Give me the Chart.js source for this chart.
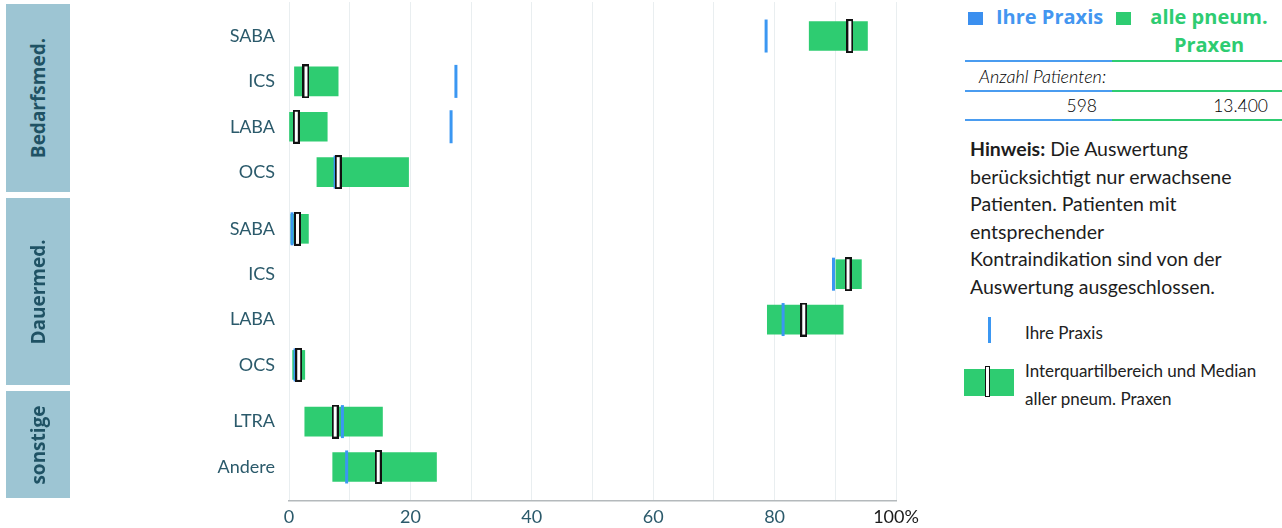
<!DOCTYPE html>
<html lang="de">
<head>
<meta charset="utf-8">
<title>Verordnungen</title>
<script src="https://cdn.jsdelivr.net/npm/chart.js@4.4.1/dist/chart.umd.min.js"></script>
<style>
  body { margin: 0; background: #fff; font-family: Lato, "Noto Sans", sans-serif; }
  #wrap { position: relative; width: 1282px; height: 528px; overflow: hidden; }
  #chartBox { position: absolute; left: 0; top: 0; width: 940px; height: 528px; }
  .grp { position: absolute; left: 6px; width: 64px; background: #9dc5d3;
         display: flex; align-items: center; justify-content: center; }
  .grp span { transform: rotate(-90deg); white-space: nowrap; font-family: "Open Sans", sans-serif;
              font-weight: 700; font-size: 19px; color: #1f5264; }
  .abs { position: absolute; white-space: nowrap; }
  .sq { position: absolute; width: 15px; height: 13px; }
  .rule { position: absolute; height: 2px; }
  .head { font-family: "Open Sans", sans-serif; font-weight: 700; font-size: 20px; line-height: 28px; }
  .num { font-size: 17.5px; font-weight: 300; color: #000; text-align: right; }
  #hint { left: 970px; top: 135px; font-size: 19.5px; line-height: 27.5px; color: #1d1d1d; }
  .leg { font-size: 17px; color: #222; line-height: 28px; }
</style>
</head>
<body>
<div id="wrap">
  <div id="chartBox"><canvas id="chart"></canvas></div>

  <div class="grp" style="top:4px;height:188px"><span id="g0"></span></div>
  <div class="grp" style="top:198px;height:187px"><span id="g1"></span></div>
  <div class="grp" style="top:391px;height:107px"><span id="g2"></span></div>

  <!-- legend / table header -->
  <div class="sq" style="left:968px;top:12px;background:#3b8fef"></div>
  <div class="abs head" style="left:996px;top:3px;color:#4396f0">Ihre Praxis</div>
  <div class="sq" style="left:1116px;top:12px;background:#2ecc71"></div>
  <div class="abs head" style="left:1139px;top:3px;width:140px;text-align:center;color:#2ecc71">alle pneum.<br>Praxen</div>

  <div class="rule" style="left:965px;top:60px;width:147px;background:#4a9cf0"></div>
  <div class="rule" style="left:1112px;top:60px;width:170px;background:#2ecc71"></div>
  <div class="abs" style="left:979px;top:65px;font-size:18px;font-style:italic;font-weight:300;color:#000">Anzahl Patienten:</div>
  <div class="rule" style="left:965px;top:90px;width:147px;background:#4a9cf0"></div>
  <div class="rule" style="left:1112px;top:90px;width:170px;background:#2ecc71"></div>
  <div class="abs num" id="n0" style="left:1000px;top:95px;width:97px"></div>
  <div class="abs num" id="n1" style="left:1150px;top:95px;width:118px"></div>
  <div class="rule" style="left:965px;top:119px;width:147px;background:#4a9cf0"></div>
  <div class="rule" style="left:1112px;top:119px;width:170px;background:#2ecc71"></div>

  <div class="abs" id="hint"><b>Hinweis:</b> Die Auswertung<br>berücksichtigt nur erwachsene<br>Patienten. Patienten mit<br>entsprechender<br>Kontraindikation sind von der<br>Auswertung ausgeschlossen.</div>

  <!-- symbol legend -->
  <div class="abs" style="left:988px;top:317px;width:3px;height:26px;background:#3b97f2"></div>
  <div class="abs leg" style="left:1025px;top:319px">Ihre Praxis</div>
  <div class="abs" style="left:964px;top:369px;width:50px;height:27px;background:#2ecc71"></div>
  <div class="abs" style="left:985px;top:366px;width:3px;height:29px;background:#fff;border:1.5px solid #111"></div>
  <div class="abs leg" style="left:1025px;top:357px">Interquartilbereich und Median<br>aller pneum. Praxen</div>
</div>

<script>
// Verordnungsgruppen und Wirkstoffklassen
const groups = ['Bedarfsmed.', 'Dauermed.', 'sonstige'];
const categories = ['SABA', 'ICS', 'LABA', 'OCS', 'SABA', 'ICS', 'LABA', 'OCS', 'LTRA', 'Andere'];
const categoryGroup = [0, 0, 0, 0, 1, 1, 1, 1, 2, 2];

// alle pneum. Praxen: Interquartilbereich und Median (%)
const q1 = [85.7, 0.9, 0.0, 4.6, 0.3, 90.1, 78.8, 0.6, 2.6, 7.2];
const q3 = [95.3, 8.1, 6.3, 19.7, 3.2, 94.3, 91.3, 2.6, 15.4, 24.3];
const median = [92.4, 2.8, 1.2, 8.1, 1.4, 92.1, 84.8, 1.6, 7.6, 14.7];

// Ihre Praxis (%)
const ihrePraxis = [78.6, 27.5, 26.7, 7.6, 0.5, 89.7, 81.4, 1.0, 8.8, 9.5];

const xTicks = [0, 20, 40, 60, 80, 100];
const patientCounts = ['598', '13.400'];

groups.forEach((g, i) => { document.getElementById('g' + i).textContent = g; });
patientCounts.forEach((n, i) => { document.getElementById('n' + i).textContent = n; });

// rows sit one unit apart, with a small extra gap between groups
const groupGap = 0.25;
const rowPos = categories.map((c, i) => i + categoryGroup[i] * groupGap);

const blue = '#3b97f2';
const green = '#2ecc71';
const teal = '#2b5a6b';

// median marker: white box with black border
const medianMark = document.createElement('canvas');
medianMark.width = 7;
medianMark.height = 34;
(() => {
    const c = medianMark.getContext('2d');
    c.fillStyle = '#fff';
    c.fillRect(0, 0, 7, 34);
    c.strokeStyle = '#111';
    c.lineWidth = 2;
    c.strokeRect(1, 1, 5, 32);
})();

new Chart(document.getElementById('chart'), {
    type: 'bar',
    data: {
        datasets: [
            {
                type: 'scatter',
                order: 0,
                data: median.map((v, i) => ({ x: v, y: rowPos[i] })),
                pointStyle: medianMark,
                pointRadius: 5,
            },
            {
                type: 'scatter',
                order: 1,
                data: ihrePraxis.map((v, i) => ({ x: v, y: rowPos[i] })),
                pointStyle: 'line',
                rotation: 90,
                pointRadius: 16.5,
                borderWidth: 3,
                borderColor: blue,
            },
            {
                type: 'bar',
                order: 2,
                data: q1.map((v, i) => ({ x: [v, q3[i]], y: rowPos[i] })),
                backgroundColor: green,
                borderWidth: 0,
                barThickness: 29,
                grouped: false,
            },
        ],
    },
    options: {
        indexAxis: 'y',
        responsive: true,
        maintainAspectRatio: false,
        animation: false,
        events: [],
        layout: { autoPadding: false, padding: { top: 2, right: 44, bottom: 0, left: 0 } },
        plugins: { legend: { display: false }, tooltip: { enabled: false } },
        scales: {
            x: {
                type: 'linear',
                min: 0,
                max: 100,
                grid: { color: '#e9eef0', drawTicks: false },
                border: { color: '#b4b9bc', width: 1.5 },
                ticks: {
                    stepSize: 10,
                    padding: 5,
                    autoSkip: false,
                    maxRotation: 0,
                    font: { family: 'Lato', size: 18 },
                    color: (ctx) => (ctx.tick && ctx.tick.value === 100 ? '#1b1b1b' : teal),
                    callback: (v) => (xTicks.includes(v) ? (v === 100 ? '100%' : String(v)) : ''),
                },
                afterFit: (scale) => { scale.height = 27; },
            },
            y: {
                type: 'linear',
                reverse: true,
                offset: false,
                min: rowPos[0] - 0.75,
                max: rowPos[rowPos.length - 1] + 0.75,
                grid: { display: false, drawTicks: false },
                border: { display: false },
                afterBuildTicks: (scale) => {
                    scale.ticks = rowPos.map((p) => ({ value: p }));
                },
                ticks: {
                    autoSkip: false,
                    padding: 14,
                    font: { family: 'Lato', size: 18 },
                    color: teal,
                    callback: (v, i) => categories[i],
                },
                afterFit: (scale) => {
                    scale.width = 289;
                    scale.paddingTop = 0;
                    scale.paddingBottom = 0;
                },
            },
        },
    },
});
</script>
</body>
</html>
